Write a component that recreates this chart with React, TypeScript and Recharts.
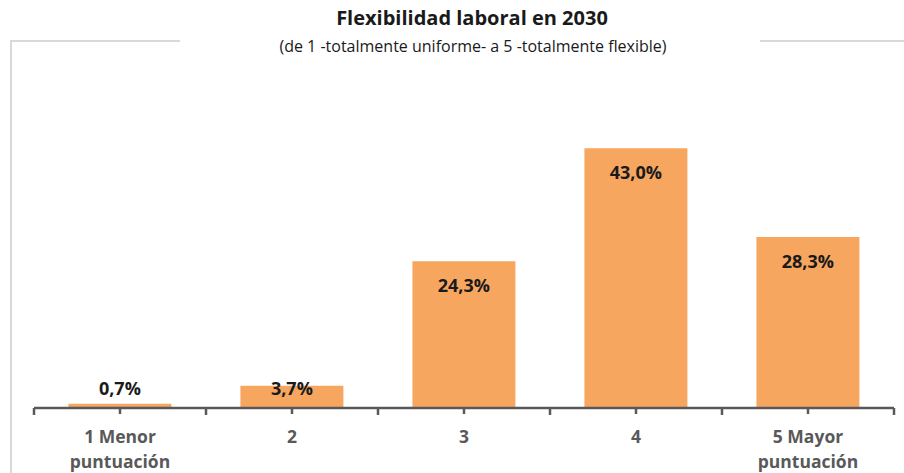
import React from "react";
import { BarChart, Bar, XAxis, YAxis, LabelList } from "recharts";

const categories = ["1 Menor puntuación", "2", "3", "4", "5 Mayor puntuación"];
const values = [0.7, 3.7, 24.3, 43.0, 28.3];
const title = "Flexibilidad laboral en 2030";
const subtitle = "(de 1 -totalmente uniforme- a 5 -totalmente flexible)";

const data = categories.map((c, i) => ({ name: c, value: values[i] }));

const FONT = "'Open Sans', Lato, sans-serif";
const AXIS_COLOR = "#595959";
const BAND = 172;

const fmt = (v: number) => v.toFixed(1).replace(".", ",") + "%";

const CustomTick = (props: any) => {
  const { x, payload, index } = props;
  const axisY = 408;
  const label: string = payload.value;
  const m = label.match(/^(\d+ \S+) (.*)$/);
  const lines = m ? [m[1], m[2]] : [label];
  return (
    <g>
      <line x1={x} x2={x} y1={axisY} y2={axisY + 6} stroke={AXIS_COLOR} strokeWidth={2.5} />
      <line x1={x - BAND / 2} x2={x - BAND / 2} y1={axisY} y2={axisY + 7} stroke={AXIS_COLOR} strokeWidth={2.5} />
      {index === categories.length - 1 && (
        <line x1={x + BAND / 2} x2={x + BAND / 2} y1={axisY} y2={axisY + 7} stroke={AXIS_COLOR} strokeWidth={2.5} />
      )}
      {lines.map((l, i) => (
        <text
          key={i}
          x={x}
          y={axisY + 35 + i * 25}
          textAnchor="middle"
          fill={AXIS_COLOR}
          fontFamily={FONT}
          fontWeight="bold"
          fontSize={17.5}
        >
          {l}
        </text>
      ))}
    </g>
  );
};

const renderLabel = (props: any) => {
  const { x, y, width, height, value } = props;
  const base = y + height;
  const cy = Math.min(y + 24, base - 20);
  return (
    <text
      x={x + width / 2}
      y={cy}
      dy={6.5}
      textAnchor="middle"
      fill="#1a1a1a"
      fontFamily={FONT}
      fontWeight="bold"
      fontSize={18}
    >
      {fmt(value)}
    </text>
  );
};

export default function App() {
  return (
    <div style={{ position: "absolute", left: 0, top: 0, width: 904, height: 473, background: "#fff", overflow: "hidden" }}>
      <div style={{ position: "absolute", left: 10, top: 40, width: 1000, height: 600, borderLeft: "2px solid #d9d9d9", borderTop: "2px solid #d9d9d9" }} />
      <div style={{ position: "absolute", left: 180, top: 30, width: 580, height: 20, background: "#fff" }} />
      <div
        style={{
          position: "absolute",
          left: 0,
          width: 944,
          top: 4,
          textAlign: "center",
          fontFamily: FONT,
          fontWeight: "bold",
          fontSize: 20,
          color: "#1a1a1a",
          lineHeight: "28px",
        }}
      >
        {title}
      </div>
      <div
        style={{
          position: "absolute",
          left: 0,
          width: 946,
          top: 35,
          textAlign: "center",
          fontFamily: FONT,
          fontSize: 16,
          color: "#1a1a1a",
          lineHeight: "22px",
        }}
      >
        {subtitle}
      </div>
      <div style={{ position: "absolute", left: 0, top: 0 }}>
        <BarChart
          width={904}
          height={473}
          data={data}
          margin={{ top: 106, right: 10, left: 34, bottom: 5 }}
          barCategoryGap="20%"
        >
          <XAxis
            dataKey="name"
            height={60}
            axisLine={{ stroke: AXIS_COLOR, strokeWidth: 2.5 }}
            tickLine={false}
            tick={<CustomTick />}
            interval={0}
          />
          <YAxis hide domain={[0, 50]} />
          <Bar dataKey="value" fill="#F7A660" isAnimationActive={false}>
            <LabelList dataKey="value" content={renderLabel} />
          </Bar>
        </BarChart>
      </div>
    </div>
  );
}
